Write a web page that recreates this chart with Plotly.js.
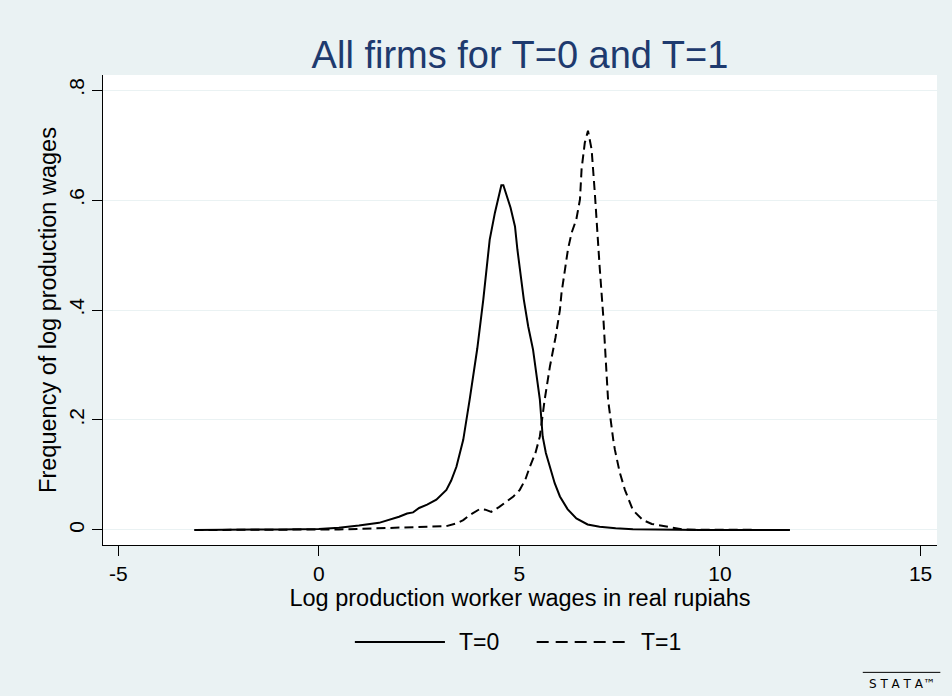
<!DOCTYPE html>
<html>
<head>
<meta charset="utf-8">
<script src="https://cdn.plot.ly/plotly-3.0.1.min.js"></script>
<style>html,body{margin:0;padding:0;background:#EAF2F3;}#chart{width:952px;height:696px;}</style>
</head>
<body>
<div id="chart"></div>
<script>
// T=0 density (solid)
var t0X = [-3.1, -2.0, -1.0, 0.0, 0.5, 1.0, 1.5, 2.0, 2.2, 2.35, 2.5, 2.7, 2.93, 3.18, 3.3, 3.43, 3.6, 3.76, 3.95, 4.1, 4.26, 4.39, 4.5, 4.55, 4.6, 4.7, 4.78, 4.89, 4.95, 5.11, 5.22, 5.34, 5.51, 5.58, 5.66, 5.76, 5.88, 6.01, 6.2, 6.42, 6.7, 7.0, 7.4, 7.83, 8.5, 9.5, 10.5, 11.74];
var t0Y = [0.000, 0.000, 0.001, 0.002, 0.004, 0.008, 0.013, 0.024, 0.030, 0.032, 0.040, 0.046, 0.055, 0.073, 0.090, 0.115, 0.164, 0.237, 0.330, 0.419, 0.528, 0.577, 0.612, 0.627, 0.627, 0.605, 0.586, 0.552, 0.510, 0.419, 0.370, 0.328, 0.237, 0.170, 0.140, 0.115, 0.085, 0.061, 0.038, 0.021, 0.010, 0.006, 0.003, 0.0013, 0.0005, 0.0002, 0.0001, 0.0000];
// T=1 density (dashed)
var t1X = [-3.1, -2.0, -1.0, 0.0, 0.5, 1.0, 1.5, 2.0, 2.5, 3.0, 3.18, 3.43, 3.6, 3.76, 3.9, 4.01, 4.15, 4.30, 4.5, 4.68, 4.85, 5.01, 5.15, 5.26, 5.40, 5.51, 5.63, 5.76, 5.9, 6.01, 6.05, 6.21, 6.30, 6.42, 6.51, 6.55, 6.63, 6.71, 6.80, 6.88, 6.96, 7.00, 7.09, 7.17, 7.21, 7.34, 7.38, 7.50, 7.63, 7.83, 8.08, 8.3, 8.67, 9.07, 9.5, 10.5, 11.74];
var t1Y = [0, 0, 0, 0, 0.001, 0.002, 0.003, 0.004, 0.005, 0.006, 0.007, 0.012, 0.018, 0.027, 0.034, 0.038, 0.037, 0.033, 0.042, 0.052, 0.061, 0.073, 0.092, 0.115, 0.140, 0.170, 0.237, 0.297, 0.350, 0.400, 0.431, 0.510, 0.540, 0.565, 0.601, 0.656, 0.704, 0.726, 0.692, 0.613, 0.510, 0.479, 0.389, 0.297, 0.237, 0.164, 0.146, 0.105, 0.073, 0.036, 0.018, 0.011, 0.006, 0.001, 0.0005, 0.0001, 0.0000];

var xTickVals = [-5, 0, 5, 10, 15];
var xTickText = ["-5", "0", "5", "10", "15"];
var yTickVals = [0, 0.2, 0.4, 0.6, 0.8];
var yTickText = ["0", ".2", ".4", ".6", ".8"];
var seriesNames = ["T=0", "T=1"];

var FONT = "Arial, 'Liberation Sans', sans-serif";

var traces = [
  {x: t0X, y: t0Y, type: "scatter", mode: "lines", name: seriesNames[0],
   line: {color: "#000000", width: 2, dash: "solid"}, showlegend: false, hoverinfo: "x+y"},
  {x: t1X, y: t1Y, type: "scatter", mode: "lines", name: seriesNames[1],
   line: {color: "#000000", width: 2, dash: "9px,5px"}, showlegend: false, hoverinfo: "x+y"}
];

var legY = -0.2064;
var layout = {
  width: 952, height: 696,
  paper_bgcolor: "#EAF2F3",
  plot_bgcolor: "#FFFFFF",
  margin: {l: 103, r: 15, t: 75, b: 151, pad: 0},
  font: {family: FONT, color: "#000000", size: 22},
  title: {text: "All firms for T=0 and T=1", font: {family: FONT, size: 38, color: "#1E3A6E"},
          x: 0.5, xref: "paper", y: 0.921, yref: "container", yanchor: "middle", automargin: false},
  xaxis: {
    range: [-5.38, 15.41], tickvals: xTickVals, ticktext: xTickText,
    showline: true, linecolor: "#000000", linewidth: 1, mirror: false,
    ticks: "outside", ticklen: 10, tickwidth: 1, tickcolor: "#000000",
    showgrid: false, zeroline: false, tickfont: {size: 21, family: FONT},
    title: {text: "Log production worker wages in real rupiahs", font: {size: 23.5, family: FONT}, standoff: 2}
  },
  yaxis: {
    range: [-0.0273, 0.8273], tickvals: yTickVals, ticktext: yTickText, tickangle: -90,
    showline: true, linecolor: "#000000", linewidth: 1, mirror: false,
    ticks: "outside", ticklen: 10, tickwidth: 1, tickcolor: "#000000",
    showgrid: true, gridcolor: "#EAF2F3", gridwidth: 1, zeroline: false, tickfont: {size: 21, family: FONT},
    title: {text: "Frequency of log production wages", font: {size: 23.5, family: FONT}, standoff: 1}
  },
  shapes: [
    {type: "line", xref: "paper", yref: "paper", x0: 0.302, x1: 0.410, y0: legY, y1: legY,
     line: {color: "#000000", width: 2}},
    {type: "line", xref: "paper", yref: "paper", x0: 0.520, x1: 0.628, y0: legY, y1: legY,
     line: {color: "#000000", width: 2, dash: "12px,7px"}},
    {type: "line", xref: "paper", yref: "paper", x0: 0.911, x1: 1.004, y0: -0.271, y1: -0.271,
     line: {color: "#000000", width: 1}}
  ],
  annotations: [
    {text: seriesNames[0], xref: "paper", yref: "paper", x: 0.425, y: legY, xanchor: "left", yanchor: "middle",
     showarrow: false, font: {size: 23, family: FONT}},
    {text: seriesNames[1], xref: "paper", yref: "paper", x: 0.643, y: legY, xanchor: "left", yanchor: "middle",
     showarrow: false, font: {size: 23, family: FONT}},
    {text: "S T A T A™", xref: "paper", yref: "paper", x: 0.958, y: -0.295, xanchor: "center", yanchor: "middle",
     showarrow: false, font: {size: 12, family: "'DejaVu Sans', sans-serif", color: "#000000"}}
  ]
};

Plotly.newPlot("chart", traces, layout, {displayModeBar: false, staticPlot: true});
</script>
</body>
</html>
